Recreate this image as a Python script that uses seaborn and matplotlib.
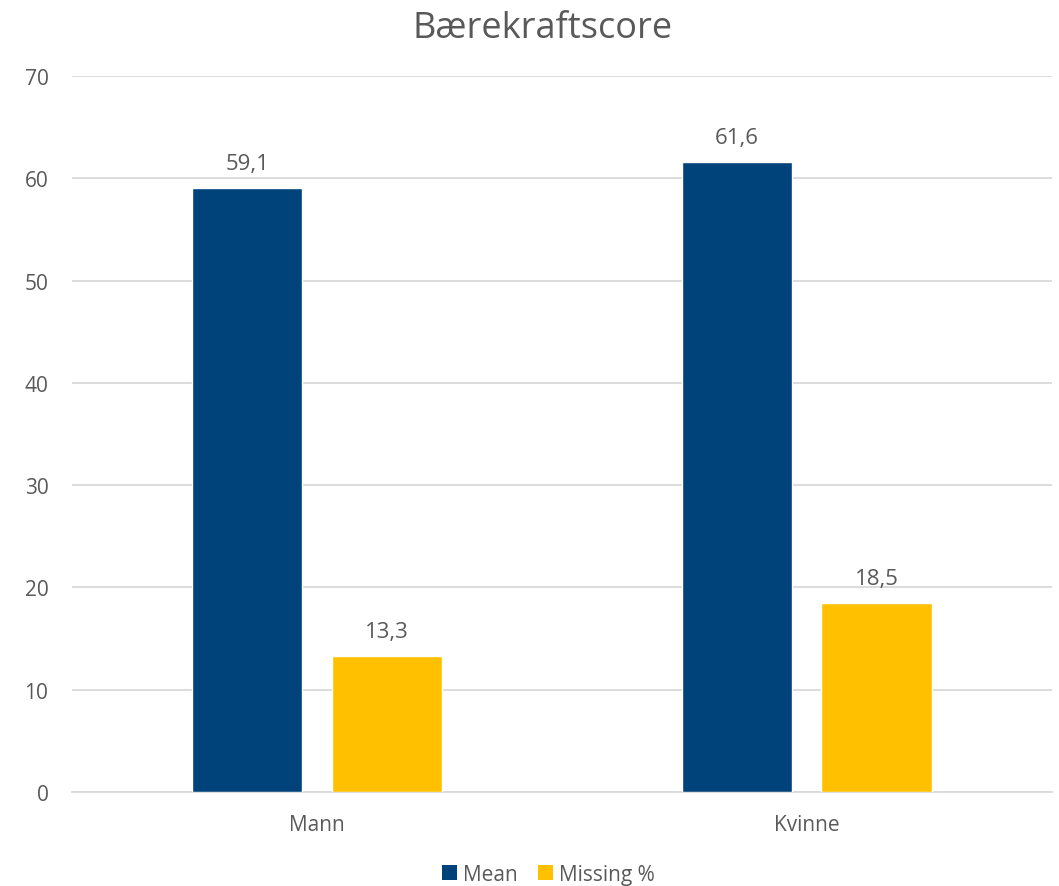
import matplotlib
matplotlib.use("Agg")
import matplotlib.pyplot as plt
import seaborn as sns
import pandas as pd
from matplotlib.patches import Patch

categories = ["Mann", "Kvinne"]
series_names = ["Mean", "Missing %"]
mean_values = [59.1, 61.6]
missing_values = [13.3, 18.5]
yticks = [0, 10, 20, 30, 40, 50, 60, 70]

df = pd.DataFrame({
    "Kjønn": categories * 2,
    "Serie": [series_names[0]] * 2 + [series_names[1]] * 2,
    "Verdi": mean_values + missing_values,
})

sns.set_theme(style="white")
plt.rcParams["font.family"] = ["Open Sans", "DejaVu Sans"]

txt = "#595959"
colors = {"Mean": "#00427A", "Missing %": "#FFC000"}

fig = plt.figure(figsize=(10.59, 8.87), dpi=100)
ax = fig.add_axes([0.068, 0.106, 0.925, 0.807])

sns.barplot(data=df, x="Kjønn", y="Verdi", hue="Serie", order=categories,
            hue_order=series_names, palette=colors, width=0.57, gap=0.21,
            saturation=1, legend=False, ax=ax, zorder=3)

for cont in ax.containers:
    for bar in cont:
        h = bar.get_height()
        ax.annotate(f"{h:.1f}".replace(".", ","),
                    (bar.get_x() + bar.get_width() / 2, h),
                    xytext=(0, 10), textcoords="offset points",
                    ha="center", va="bottom", fontsize=16, color=txt)

ax.set_ylim(0, 70)
ax.set_xlim(-0.5, 1.5)
ax.set_yticks(yticks)
ax.set_yticklabels([str(v) for v in yticks])
ax.yaxis.grid(True, color="#D9D9D9", linewidth=1.3, zorder=0)
ax.set_axisbelow(True)
for s in ["top", "right", "left"]:
    ax.spines[s].set_visible(False)
ax.spines["bottom"].set_color("#D9D9D9")
ax.spines["bottom"].set_linewidth(1.3)
ax.tick_params(axis="both", length=0, labelsize=15, labelcolor=txt)
ax.tick_params(axis="y", pad=17)
ax.tick_params(axis="x", pad=16)
ax.set_xlabel("")
ax.set_ylabel("")

fig.suptitle("Bærekraftscore", x=0.512, y=0.988, fontsize=26, color=txt, va="top")

handles = [Patch(facecolor=colors[n], edgecolor="none", label=n) for n in series_names]
fig.legend(handles=handles, loc="center", bbox_to_anchor=(0.518, 0.013), ncol=2,
           frameon=False, fontsize=15, labelcolor=txt, handlelength=0.7,
           handleheight=0.7, handletextpad=0.3, columnspacing=1.0)

fig.savefig("out.png", dpi=100)
